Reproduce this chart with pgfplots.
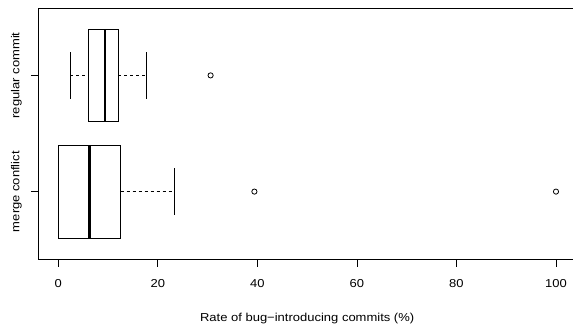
\documentclass[border=0pt]{standalone}
\usepackage{pgfplots}
\pgfplotsset{compat=1.18}
\usepgfplotslibrary{statistics}
\usepackage{fontspec}
\setmainfont[FakeStretch=1.13]{Liberation Sans}
\begin{document}
\begin{tikzpicture}
\path[use as bounding box] (0,0) rectangle (573bp,324bp);
\clip (0,0) rectangle (573bp,324bp);
\pgfinterruptboundingbox
\begin{axis}[
  at={(38.4bp,65bp)}, anchor=south west, scale only axis,
  width=537.5bp, height=251bp,
  xmin=-4, xmax=104, ymin=0.42, ymax=2.58,
  xtick={0,20,40,60,80,100},
  ytick={1,2}, yticklabels={merge conflict,regular commit},
  tick align=outside, xtick pos=bottom, ytick pos=left,
  major tick length=7.5bp,
  tick style={black, line width=0.8bp},
  axis line style={line width=0.8bp},
  /pgf/number format/assume math mode=true,
  ticklabel style={font=\fontsize{11.5bp}{13bp}\selectfont},
  label style={font=\fontsize{11.5bp}{13bp}\selectfont},
  xticklabel style={anchor=north, inner sep=0pt, yshift=-13bp},
  yticklabel style={xshift=-9bp, rotate=90, anchor=south, inner sep=0pt},
  xlabel={Rate of bug−introducing commits (\%)},
  xlabel style={anchor=base, at={(axis description cs:0.5,0)}, yshift=-62.5bp},
  boxplot/box extend=0.8,
  boxplot/whisker extend=0.4,
  boxplot/every median/.style={line width=2.6bp},
  boxplot/draw/lower whisker/.code={
    \draw[dash pattern=on 3bp off 3bp] (boxplot box cs:\pgfplotsboxplotvalue{lower whisker},0.5) -- (boxplot box cs:\pgfplotsboxplotvalue{lower quartile},0.5);
    \draw (boxplot whisker cs:\pgfplotsboxplotvalue{lower whisker},0) -- (boxplot whisker cs:\pgfplotsboxplotvalue{lower whisker},1);
  },
  boxplot/draw/upper whisker/.code={
    \draw[dash pattern=on 3bp off 3bp] (boxplot box cs:\pgfplotsboxplotvalue{upper quartile},0.5) -- (boxplot box cs:\pgfplotsboxplotvalue{upper whisker},0.5);
    \draw (boxplot whisker cs:\pgfplotsboxplotvalue{upper whisker},0) -- (boxplot whisker cs:\pgfplotsboxplotvalue{upper whisker},1);
  },
]
\addplot[black, line width=0.8bp, mark=o, mark size=2.6bp, mark options={solid, line width=0.8bp},
  boxplot prepared={lower whisker=0, lower quartile=0, median=6.3,
    upper quartile=12.53, upper whisker=23.3, draw position=1}]
  table[row sep=\\, y index=0] {x\\ 39.4\\ 100\\};
\addplot[black, line width=0.8bp, mark=o, mark size=2.6bp, mark options={solid, line width=0.8bp},
  boxplot prepared={lower whisker=2.41, lower quartile=6.03, median=9.38,
    upper quartile=12.06, upper whisker=17.7, draw position=2}]
  table[row sep=\\, y index=0] {x\\ 30.6\\};
\end{axis}
\endpgfinterruptboundingbox
\end{tikzpicture}
\end{document}
